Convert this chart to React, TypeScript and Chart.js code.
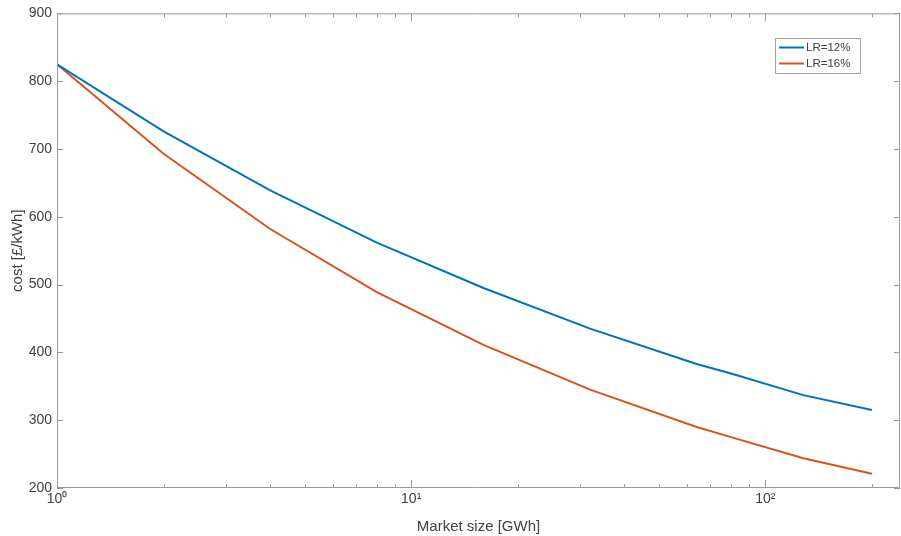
import React, { useEffect, useRef } from "react";
import { Chart, registerables } from "chart.js";

Chart.register(...registerables);

const marketSize = [1, 2, 4, 8, 16, 32, 64, 80, 128, 200];
const costLR12 = [825, 726, 639, 562, 495, 435, 383, 369, 337, 315];
const costLR16 = [825, 693, 582, 489, 411, 345, 290, 275, 244, 221];
const seriesLabels = ["LR=12%", "LR=16%"];
const xTickValues = [1, 2, 3, 4, 5, 6, 7, 8, 9, 10, 20, 30, 40, 50, 60, 70, 80, 90, 100, 200];
const xMajorLabels: Record<number, string> = { 1: "10\u2070", 10: "10\u00b9", 100: "10\u00b2" };

const FONT = "'Liberation Sans', Arial, Helvetica, sans-serif";
const TEXT = "#404040";
const AXIS = "#9a9a9a";

const boxPlugin = {
  id: "matlabBox",
  afterDraw(chart: any) {
    const { ctx, chartArea: a, scales } = chart;
    const x = scales.x;
    const y = scales.y;
    ctx.save();
    ctx.strokeStyle = AXIS;
    ctx.lineWidth = 1;
    ctx.beginPath();
    ctx.rect(a.left + 0.5, a.top + 0.5, a.right - a.left - 1, a.bottom - a.top - 1);
    ctx.stroke();
    ctx.beginPath();
    for (const t of x.ticks) {
      const px = Math.round(x.getPixelForValue(t.value)) + 0.5;
      const major = !!xMajorLabels[t.value];
      const len = major ? 8 : 4;
      ctx.moveTo(px, a.bottom);
      ctx.lineTo(px, a.bottom - len);
      ctx.moveTo(px, a.top);
      ctx.lineTo(px, a.top + len);
    }
    for (const t of y.ticks) {
      const py = Math.round(y.getPixelForValue(t.value)) + 0.5;
      ctx.moveTo(a.left, py);
      ctx.lineTo(a.left + 6, py);
      ctx.moveTo(a.right, py);
      ctx.lineTo(a.right - 6, py);
    }
    ctx.stroke();

    // legend
    const lx = 775, ly = 38, lw = 85, lh = 35;
    ctx.fillStyle = "#ffffff";
    ctx.fillRect(lx, ly, lw, lh);
    ctx.strokeStyle = "#a0a0a0";
    ctx.strokeRect(lx + 0.5, ly + 0.5, lw, lh);
    ctx.font = `11.5px ${FONT}`;
    ctx.textBaseline = "middle";
    chart.data.datasets.forEach((ds: any, i: number) => {
      const yy = ly + 9.5 + i * 16;
      ctx.strokeStyle = ds.borderColor;
      ctx.lineWidth = 2;
      ctx.beginPath();
      ctx.moveTo(lx + 4, yy);
      ctx.lineTo(lx + 29, yy);
      ctx.stroke();
      ctx.fillStyle = TEXT;
      ctx.fillText(ds.label, lx + 31, yy + 0.5);
    });
    ctx.restore();
  },
};

export default function App() {
  const ref = useRef<HTMLCanvasElement | null>(null);
  useEffect(() => {
    document.body.style.margin = "0";
    const chart = new Chart(ref.current as HTMLCanvasElement, {
      type: "line",
      data: {
        datasets: [
          {
            label: seriesLabels[0],
            data: marketSize.map((m, i) => ({ x: m, y: costLR12[i] })),
            borderColor: "#0072BD",
            borderWidth: 2,
            pointRadius: 0,
            tension: 0,
          },
          {
            label: seriesLabels[1],
            data: marketSize.map((m, i) => ({ x: m, y: costLR16[i] })),
            borderColor: "#D95319",
            borderWidth: 2,
            pointRadius: 0,
            tension: 0,
          },
        ],
      },
      options: {
        animation: false,
        responsive: false,
        layout: { padding: { top: 13, right: 1, left: 0, bottom: 0 } },
        plugins: { legend: { display: false }, tooltip: { enabled: false } },
        scales: {
          x: {
            type: "logarithmic",
            min: 1,
            max: 240,
            afterBuildTicks: (s: any) => {
              s.ticks = xTickValues.map((v) => ({ value: v }));
            },
            afterFit: (s: any) => {
              s.height = 48;
            },
            grid: { display: false, drawTicks: false },
            border: { display: false },
            ticks: {
              autoSkip: false,
              maxRotation: 0,
              padding: 3,
              color: TEXT,
              font: { family: FONT, size: 14 },
              callback: (v: any) => xMajorLabels[Number(v)] ?? "",
            },
            title: {
              display: true,
              text: "Market size [GWh]",
              color: TEXT,
              font: { family: FONT, size: 15 },
              padding: { top: 2, bottom: 0 },
            },
          },
          y: {
            min: 200,
            max: 900,
            afterFit: (s: any) => {
              s.width = 57;
            },
            grid: { display: false, drawTicks: false },
            border: { display: false },
            ticks: {
              stepSize: 100,
              padding: 5,
              color: TEXT,
              font: { family: FONT, size: 14 },
            },
            title: {
              display: true,
              text: "cost [\u00a3/kWh]",
              color: TEXT,
              font: { family: FONT, size: 15 },
              padding: { top: 9, bottom: 4 },
            },
          },
        },
      },
      plugins: [boxPlugin],
    } as any);
    return () => chart.destroy();
  }, []);
  return (
    <div style={{ width: 901, height: 536, background: "#fff" }}>
      <canvas ref={ref} width={901} height={536} style={{ display: "block" }} />
    </div>
  );
}
